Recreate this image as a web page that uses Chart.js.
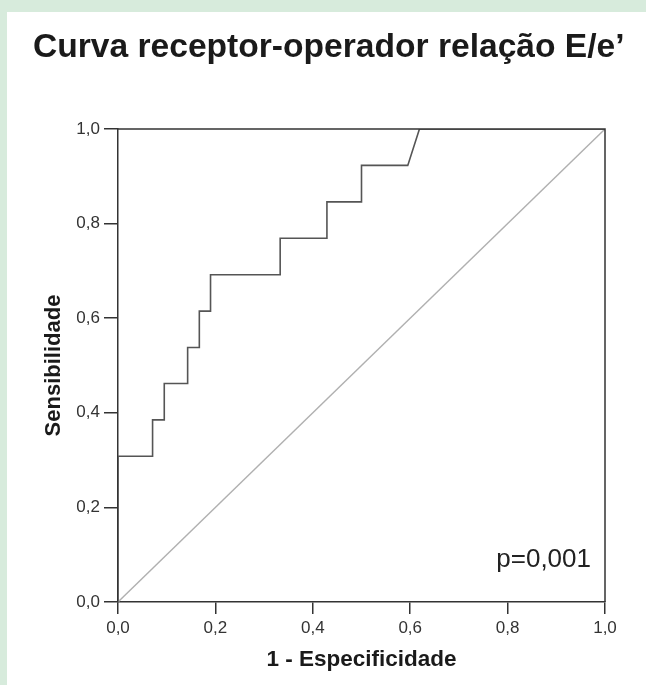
<!DOCTYPE html>
<html>
<head>
<meta charset="utf-8">
<script src="https://cdn.jsdelivr.net/npm/chart.js@4.4.1/dist/chart.umd.min.js"></script>
<style>
  html, body { margin: 0; padding: 0; background: #fff; }
  #wrap { width: 646px; height: 685px; position: relative; }
</style>
</head>
<body>
<div id="wrap"><canvas id="roc" width="646" height="685"></canvas></div>
<script>
// ROC curve (1 - especificidade, sensibilidade)
const fpr = [0, 0, 0.071, 0.071, 0.095, 0.095, 0.143, 0.143, 0.167, 0.167, 0.190, 0.190, 0.333, 0.333, 0.429, 0.429, 0.500, 0.500, 0.595, 0.619, 1];
const tpr = [0, 0.308, 0.308, 0.385, 0.385, 0.462, 0.462, 0.538, 0.538, 0.615, 0.615, 0.692, 0.692, 0.769, 0.769, 0.846, 0.846, 0.923, 0.923, 1, 1];
// reference line
const refX = [0, 1];
const refY = [0, 1];
const tickValues = [0, 0.2, 0.4, 0.6, 0.8, 1];
const titleText = 'Curva receptor-operador relação E/e\u2019';
const pValue = "p=0,001";

const FONT = '"Liberation Sans", Arial, Helvetica, sans-serif';

const toPts = (xs, ys) => xs.map((x, i) => ({ x: x, y: ys[i] }));
const fmt = v => v.toFixed(1).replace('.', ',');

// green page edge, title, top/right frame and the p value
const framePlugin = {
    id: 'frame',
    beforeDraw(chart) {
        const ctx = chart.ctx;
        ctx.save();
        ctx.fillStyle = '#d7ebdc';
        ctx.fillRect(0, 0, chart.width, chart.height);
        ctx.fillStyle = '#ffffff';
        ctx.fillRect(7, 12, chart.width - 7, chart.height - 12);
        ctx.fillStyle = '#1a1a1a';
        ctx.font = 'bold 33.6px ' + FONT;
        ctx.textAlign = 'left';
        ctx.textBaseline = 'alphabetic';
        ctx.fillText(titleText, 33, 57, 592);
        ctx.restore();
    },
    afterDraw(chart) {
        const { ctx, chartArea: a } = chart;
        ctx.save();
        ctx.strokeStyle = '#333';
        ctx.lineWidth = 1.5;
        ctx.beginPath();
        ctx.moveTo(a.left, a.top);
        ctx.lineTo(a.right, a.top);
        ctx.lineTo(a.right, a.bottom);
        ctx.stroke();
        ctx.fillStyle = '#222';
        ctx.font = '26px ' + FONT;
        ctx.textAlign = 'right';
        ctx.fillText(pValue, a.right - 14, a.bottom - 35);
        ctx.restore();
    }
};

new Chart(document.getElementById('roc'), {
    type: 'line',
    data: {
        datasets: [{
            data: toPts(fpr, tpr),
            borderColor: '#555',
            borderWidth: 1.6,
            pointRadius: 0,
            tension: 0,
            order: 1
        }, {
            data: toPts(refX, refY),
            borderColor: '#b0b0b0',
            borderWidth: 1.4,
            pointRadius: 0,
            tension: 0,
            order: 2
        }]
    },
    options: {
        responsive: false,
        animation: false,
        devicePixelRatio: 1,
        layout: { padding: { left: 33, right: 41, top: 129, bottom: 0 } },
        plugins: {
            legend: { display: false },
            tooltip: { enabled: false },
            title: { display: false }
        },
        scales: {
            x: {
                type: 'linear',
                min: 0,
                max: 1,
                afterFit: s => { s.height = 83; },
                afterBuildTicks: s => { s.ticks = tickValues.map(v => ({ value: v })); },
                ticks: {
                    color: '#333',
                    font: { family: FONT, size: 17 },
                    padding: 4,
                    maxRotation: 0,
                    callback: v => fmt(v)
                },
                grid: { drawOnChartArea: false, drawTicks: true, tickLength: 12, color: '#333', lineWidth: 1.5 },
                border: { display: true, color: '#333', width: 1.5 },
                title: {
                    display: true,
                    text: '1 - Especificidade',
                    color: '#1a1a1a',
                    font: { family: FONT, size: 22.5, weight: 'bold' },
                    padding: { top: 0, bottom: 11.5 }
                }
            },
            y: {
                type: 'linear',
                min: 0,
                max: 1,
                afterFit: s => { s.width = 85; },
                afterBuildTicks: s => { s.ticks = tickValues.map(v => ({ value: v })); },
                ticks: {
                    color: '#333',
                    font: { family: FONT, size: 17 },
                    padding: 4,
                    callback: v => fmt(v)
                },
                grid: { drawOnChartArea: false, drawTicks: true, tickLength: 14, color: '#333', lineWidth: 1.5 },
                border: { display: true, color: '#333', width: 1.5 },
                title: {
                    display: true,
                    text: 'Sensibilidade',
                    color: '#1a1a1a',
                    font: { family: FONT, size: 22, weight: 'bold' },
                    padding: { top: 8, bottom: 0 }
                }
            }
        }
    },
    plugins: [framePlugin]
});
</script>
</body>
</html>
